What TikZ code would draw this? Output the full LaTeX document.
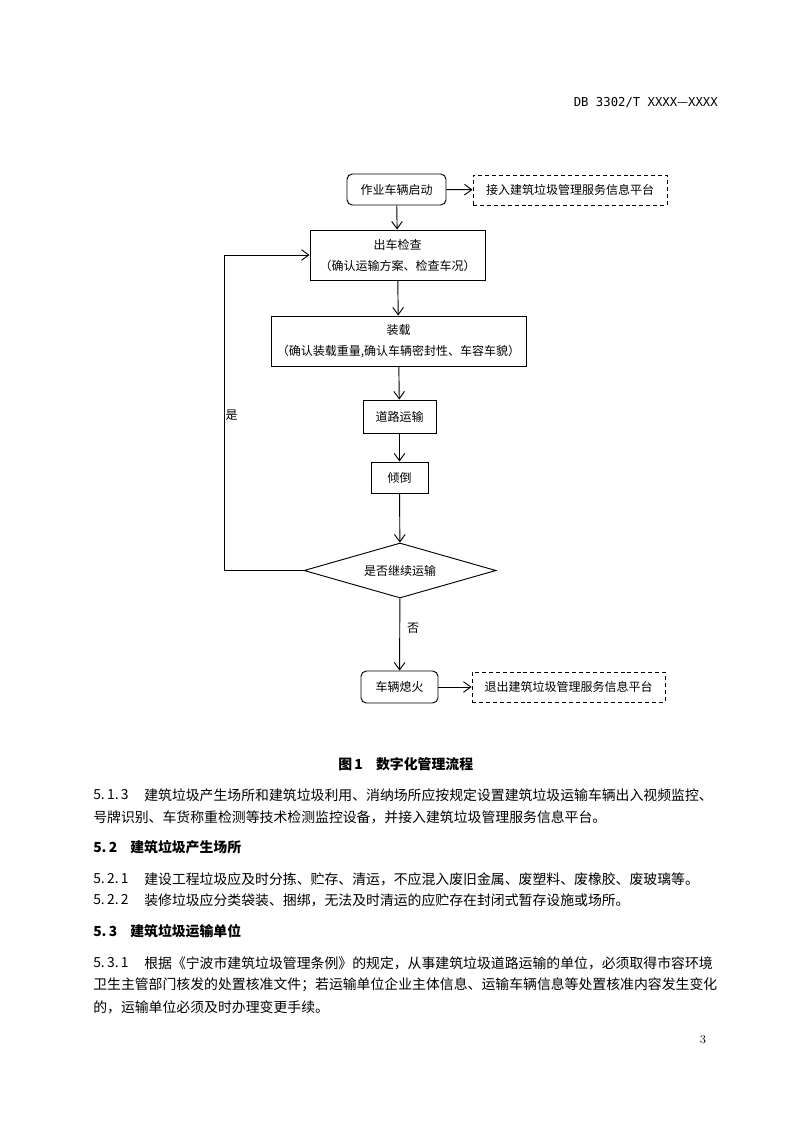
\documentclass[tikz,border=0pt]{standalone}
\usepackage{fontspec}
\newfontfamily\cjk{Noto Sans CJK SC}
\newfontfamily\hdmono{DejaVu Sans Mono}
\usetikzlibrary{shapes.geometric,arrows.meta}
\tikzset{
	flowbox/.style={draw, line width=0.7pt, font=\cjk\fontsize{9}{15.75}\selectfont, align=center, inner sep=0pt},
	roundbox/.style={flowbox, rounded corners=4pt},
	platbox/.style={flowbox, dash pattern=on 3pt off 2.2pt},
	decision/.style={flowbox, diamond, aspect=3.5},
	flowarr/.style={line width=0.7pt, -{Straight Barb[length=5.5pt,width=8pt]}},
	flowlabel/.style={font=\cjk\fontsize{9}{11}\selectfont, inner sep=0pt},
	bodytext/.style={font=\cjk\fontsize{10.4}{14}\selectfont, anchor=west, inner sep=0pt},
	headtext/.style={font=\cjk\bfseries\fontsize{10.4}{14}\selectfont, anchor=west, inner sep=0pt},
}
\begin{document}
\begin{tikzpicture}[x=0.75pt,y=-0.75pt]
	\fill[white] (0,0) rectangle (794,1123);
	\useasboundingbox (0,0) rectangle (794,1123);
	
	% page header
	\node[font=\hdmono\fontsize{9.2}{11}\selectfont, anchor=east, inner sep=0pt] (hdr) at (718,103) {DB 3302/T XXXX{\cjk —}XXXX};
	
	% flow chart
	\node[roundbox, minimum width=74.25pt, minimum height=23.25pt] (start) at (396.5,189.5) {作业车辆启动};
	\node[platbox, minimum width=145.5pt, minimum height=22.5pt] (enter) at (570,190) {接入建筑垃圾管理服务信息平台};
	\node[flowbox, minimum width=131.25pt, minimum height=37.5pt] (check) at (397.5,255) {出车检查\\（确认运输方案、检查车况）};
	\node[flowbox, minimum width=191.25pt, minimum height=37.5pt] (load) at (398.5,341) {装载\\（确认装载重量,确认车辆密封性、车容车貌）};
	\node[flowbox, minimum width=54.75pt, minimum height=24.75pt] (road) at (399.5,416.5) {道路运输};
	\node[flowbox, minimum width=42.75pt, minimum height=23.25pt] (dump) at (399.5,477.5) {倾倒};
	\node[decision, minimum width=144pt, minimum height=41.25pt] (again) at (400,570.5) {是否继续运输};
	\node[roundbox, minimum width=57.75pt, minimum height=24pt] (stop) at (399.5,687) {车辆熄火};
	\node[platbox, minimum width=144.75pt, minimum height=22.5pt] (leave) at (568.5,687) {退出建筑垃圾管理服务信息平台};
	\coordinate (loop) at (224,570.5);
	
	\draw[flowarr] (start) -- (enter);
	\draw[flowarr] (start) -- (check);
	\draw[flowarr] (check) -- (load);
	\draw[flowarr] (load) -- (road);
	\draw[flowarr] (road) -- (dump);
	\draw[flowarr] (dump) -- (again);
	\draw[flowarr] (again.west) -- (loop) |- (check.west);
	\draw[flowarr] (again) -- (stop);
	\draw[flowarr] (stop) -- (leave);
	\node[flowlabel] (yes) at (231.5,415) {是};
	\node[flowlabel] (no) at (413,628) {否};
	
	% caption and text
	\node[headtext] (cap) at (338,764) {图\,1\hspace{0.95em}数字化管理流程};
	
	\node[bodytext] (n513) at (93,795) {5.\,1.\,3};
	\node[bodytext] (p513a) at (144,795) {建筑垃圾产生场所和建筑垃圾利用、消纳场所应按规定设置建筑垃圾运输车辆出入视频监控、};
	\node[bodytext] (p513b) at (93,817) {号牌识别、车货称重检测等技术检测监控设备，并接入建筑垃圾管理服务信息平台。};
	
	\node[headtext] (n52) at (93,847) {5.\,2};
	\node[headtext] (h52) at (130,847) {建筑垃圾产生场所};
	\node[bodytext] (n521) at (93,879) {5.\,2.\,1};
	\node[bodytext] (p521) at (144,879) {建设工程垃圾应及时分拣、贮存、清运，不应混入废旧金属、废塑料、废橡胶、废玻璃等。};
	\node[bodytext] (n522) at (93,900) {5.\,2.\,2};
	\node[bodytext] (p522) at (144,900) {装修垃圾应分类袋装、捆绑，无法及时清运的应贮存在封闭式暂存设施或场所。};
	
	\node[headtext] (n53) at (93,931) {5.\,3};
	\node[headtext] (h53) at (130,931) {建筑垃圾运输单位};
	\node[bodytext] (n531) at (93,963) {5.\,3.\,1};
	\node[bodytext] (p531a) at (144,963) {根据《宁波市建筑垃圾管理条例》的规定，从事建筑垃圾道路运输的单位，必须取得市容环境};
	\node[bodytext] (p531b) at (93,985) {卫生主管部门核发的处置核准文件；若运输单位企业主体信息、运输车辆信息等处置核准内容发生变化};
	\node[bodytext] (p531c) at (93,1007) {的，运输单位必须及时办理变更手续。};
	
	\node[font=\fontsize{9}{11}\selectfont, inner sep=0pt] (pageno) at (703,1040) {3};
\end{tikzpicture}
\end{document}
